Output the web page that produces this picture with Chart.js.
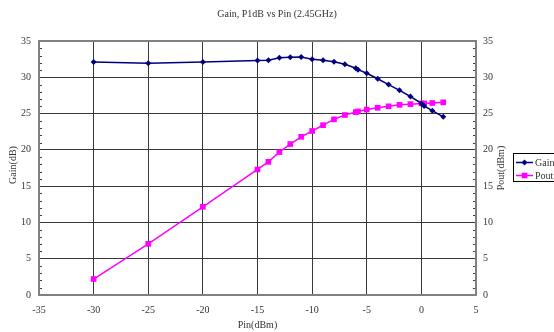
<!DOCTYPE html>
<html>
<head>
<meta charset="utf-8">
<script src="https://cdn.jsdelivr.net/npm/chart.js@4.4.1/dist/chart.umd.min.js"></script>
<style>
html,body{margin:0;padding:0;background:#fff;}
#wrap{width:554px;height:332px;position:relative;}
</style>
</head>
<body>
<div id="wrap"><canvas id="c" width="554" height="332"></canvas></div>
<script>
const pinValues = [-30,-25,-20,-15,-14,-13,-12,-11,-10,-9,-8,-7,-6,-5.8,-5,-4,-3,-2,-1,0,0.25,1,2];
const gainValues = [32.1,31.95,32.1,32.3,32.35,32.7,32.75,32.8,32.5,32.35,32.15,31.8,31.25,31.05,30.55,29.8,29.0,28.2,27.35,26.4,26.05,25.4,24.55];
const poutValues = [2.2,7.05,12.15,17.3,18.35,19.7,20.8,21.8,22.6,23.4,24.2,24.8,25.2,25.3,25.55,25.8,26.0,26.2,26.3,26.4,26.4,26.45,26.55];
const xTicks = [-35,-30,-25,-20,-15,-10,-5,0,5];
const yTicks = [0,5,10,15,20,25,30,35];
const seriesNames = ['Gain','Pout'];
const titleText = 'Gain, P1dB vs Pin (2.45GHz)';
const xTitle = 'Pin(dBm)';
const yTitle = 'Gain(dB)';
const y1Title = 'Pout(dBm)';

const FONT = '"Liberation Serif", "DejaVu Serif", serif';
const TXT = '#333333';
const GAIN_COLOR = '#000080';
const POUT_COLOR = '#FF00FF';

const toPts = (ys) => pinValues.map((x, i) => ({x: x, y: ys[i]}));

const decorPlugin = {
  id: 'decor',
  afterDraw(chart) {
    const ctx = chart.ctx;
    const ca = chart.chartArea;
    const ys = chart.scales.y;
    ctx.save();
    // minor ticks on both vertical axes
    ctx.strokeStyle = '#404040';
    ctx.lineWidth = 1;
    for (let v = ys.min; v <= ys.max; v += 1) {
      if (v % 5 === 0) continue;
      const py = Math.round(ys.getPixelForValue(v)) + 0.5;
      ctx.beginPath();
      ctx.moveTo(ca.left, py); ctx.lineTo(ca.left + 3, py);
      ctx.moveTo(ca.right - 3, py); ctx.lineTo(ca.right, py);
      ctx.stroke();
    }
    // frame
    ctx.strokeStyle = '#808080';
    ctx.lineWidth = 2;
    ctx.strokeRect(ca.left, ca.top, ca.right - ca.left, ca.bottom - ca.top);
    // texts
    ctx.fillStyle = TXT;
    ctx.font = '10px ' + FONT;
    ctx.textAlign = 'center';
    ctx.textBaseline = 'middle';
    ctx.fillText(titleText, chart.width / 2, 14);
    ctx.fillText(xTitle, (ca.left + ca.right) / 2, 325);
    const midY = (ca.top + ca.bottom) / 2;
    ctx.save();
    ctx.translate(13, midY - 3);
    ctx.rotate(-Math.PI / 2);
    ctx.fillText(yTitle, 0, 0);
    ctx.restore();
    ctx.save();
    ctx.translate(501, midY);
    ctx.rotate(-Math.PI / 2);
    ctx.fillText(y1Title, 0, 0);
    ctx.restore();
    // legend
    ctx.fillStyle = '#ffffff';
    ctx.fillRect(513.5, 153.5, 45, 28);
    ctx.strokeStyle = '#000000';
    ctx.lineWidth = 1;
    ctx.strokeRect(513.5, 153.5, 45, 28);
    const rows = [
      {name: seriesNames[0], color: GAIN_COLOR, style: 'rectRot', r: 3, y: 162.5},
      {name: seriesNames[1], color: POUT_COLOR, style: 'rect', r: 4, y: 175.5}
    ];
    rows.forEach(row => {
      ctx.strokeStyle = row.color;
      ctx.lineWidth = 1.5;
      ctx.beginPath();
      ctx.moveTo(516, row.y); ctx.lineTo(533, row.y);
      ctx.stroke();
      ctx.fillStyle = row.color;
      Chart.helpers.drawPoint(ctx, {pointStyle: row.style, radius: row.r, borderWidth: 0}, 524.5, row.y);
      ctx.fillStyle = TXT;
      ctx.textAlign = 'left';
      ctx.fillText(row.name, 535, row.y + 0.5);
    });
    ctx.restore();
  }
};

new Chart(document.getElementById('c'), {
  type: 'line',
  data: {
    datasets: [
      {
        label: seriesNames[0],
        data: toPts(gainValues),
        yAxisID: 'y',
        borderColor: GAIN_COLOR,
        backgroundColor: GAIN_COLOR,
        borderWidth: 1.5,
        pointStyle: 'rectRot',
        pointRadius: 3,
        pointBorderWidth: 0,
        tension: 0
      },
      {
        label: seriesNames[1],
        data: toPts(poutValues),
        yAxisID: 'y1',
        borderColor: POUT_COLOR,
        backgroundColor: POUT_COLOR,
        borderWidth: 1.5,
        pointStyle: 'rect',
        pointRadius: 4,
        pointBorderWidth: 0,
        tension: 0
      }
    ]
  },
  options: {
    responsive: false,
    animation: false,
    layout: {padding: {left: 0, right: 48, top: 41, bottom: 0}},
    plugins: {
      legend: {display: false},
      title: {display: false},
      tooltip: {enabled: false}
    },
    scales: {
      x: {
        type: 'linear',
        min: xTicks[0],
        max: xTicks[xTicks.length - 1],
        afterBuildTicks: (s) => { s.ticks = xTicks.map(v => ({value: v})); },
        afterFit: (s) => { s.height = 37; },
        grid: {color: '#383838', lineWidth: 1, drawTicks: false},
        border: {display: false},
        ticks: {color: TXT, font: {family: FONT, size: 10}, padding: 9, maxRotation: 0}
      },
      y: {
        position: 'left',
        min: yTicks[0],
        max: yTicks[yTicks.length - 1],
        afterBuildTicks: (s) => { s.ticks = yTicks.map(v => ({value: v})); },
        afterFit: (s) => { s.width = 39; },
        grid: {color: '#383838', lineWidth: 1, drawTicks: false},
        border: {display: false},
        ticks: {color: TXT, font: {family: FONT, size: 10}, padding: 8}
      },
      y1: {
        position: 'right',
        min: yTicks[0],
        max: yTicks[yTicks.length - 1],
        afterBuildTicks: (s) => { s.ticks = yTicks.map(v => ({value: v})); },
        afterFit: (s) => { s.width = 30; },
        grid: {display: false, drawTicks: false},
        border: {display: false},
        ticks: {color: TXT, font: {family: FONT, size: 10}, padding: 7}
      }
    }
  },
  plugins: [decorPlugin]
});
</script>
</body>
</html>
